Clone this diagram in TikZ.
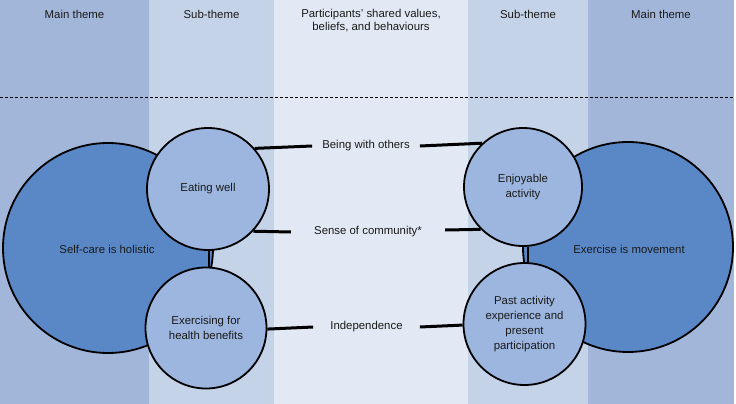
\documentclass[tikz,border=0pt]{standalone}
\usepackage{fontspec}
\setmainfont{Liberation Sans}
\definecolor{colmain}{HTML}{A2B6D9}
\definecolor{colsub}{HTML}{C5D3E9}
\definecolor{colmid}{HTML}{E3E9F4}
\definecolor{bigfill}{HTML}{5A88C6}
\definecolor{smallfill}{HTML}{9CB6DF}
\definecolor{txt}{HTML}{1A1A1A}
\begin{document}
\begin{tikzpicture}[x=1pt,y=-1pt,
  every node/.style={font=\fontsize{11.4}{15}\selectfont, text=txt},
  bigcirc/.style={circle, draw=black, line width=1.8pt, fill=bigfill, minimum size=210pt, inner sep=0pt},
  smallcirc/.style={circle, draw=black, line width=1.8pt, fill=smallfill, inner sep=0pt, align=center},
  header/.style={align=center, font=\fontsize{11.4}{13.5}\selectfont},
  valuelbl/.style={inner ysep=2pt},
  link/.style={line width=3pt, draw=black},
  joint/.style={line width=1.6pt, draw=black}
]
\useasboundingbox (0,0) rectangle (736,404);
\fill[white] (0,0) rectangle (736,404);
% columns
\fill[colmain] (0,0) rectangle (149,404);
\fill[colsub] (149,0) rectangle (274,404);
\fill[colmid] (274,0) rectangle (468,404);
\fill[colsub] (468,0) rectangle (588,404);
\fill[colmain] (588,0) rectangle (734,404);
% headers
\node[header] (h1) at (74.5,14) {Main theme};
\node[header] (h2) at (211.5,14) {Sub-theme};
\node[header] (h3) at (371,20.5) {Participants' shared values,\\beliefs, and behaviours};
\node[header] (h4) at (528,14) {Sub-theme};
\node[header] (h5) at (661,14) {Main theme};
\draw[dash pattern=on 3pt off 2pt, line width=0.8pt] (0,97) -- (734,97);
% main themes
\node[bigcirc] (L) at (108,248) {};
\node (Lt) at (107,249) {Self-care is holistic};
\node[bigcirc] (R) at (628,247) {};
\node (Rt) at (629,249) {Exercise is movement};
% sub-themes
\coordinate (ewc) at (208,189);
\coordinate (exc) at (206,328);
\coordinate (eac) at (523,187);
\coordinate (pac) at (524.5,324);
\node[smallcirc, minimum size=122pt] (EW) at (ewc) {Eating well};
\node[smallcirc, minimum size=121pt] (EX) at (exc) {Exercising for\\health benefits};
\node[smallcirc, minimum size=118pt] (EA) at (eac) {Enjoyable\\activity};
\node[smallcirc, minimum size=122pt] (PA) at (pac) {Past activity\\experience and\\present\\participation};
\draw[joint] ([xshift=1pt]EW.south) -- ([xshift=3pt]EX.north);
\draw[joint] ([xshift=5pt]EA.south) -- ([xshift=3.5pt]PA.north);
% values
\node[valuelbl, inner xsep=10pt] (BW) at (366,146) {Being with others};
\node[valuelbl, inner xsep=23pt] (SC) at (368,232) {Sense of community*};
\node[valuelbl, inner xsep=17pt] (IN) at (366.5,327) {Independence};
\draw[link] (EW.41.6) -- (BW.west);
\draw[link] (BW.east) -- (EA.133);
\draw[link] (EW.-43.7) -- (SC.west);
\draw[link] ([yshift=2pt]SC.east) -- (EA.225.7);
\draw[link] (EX.-1) -- (IN.west);
\draw[link] (IN.east) -- (PA.181);
\end{tikzpicture}
\end{document}
